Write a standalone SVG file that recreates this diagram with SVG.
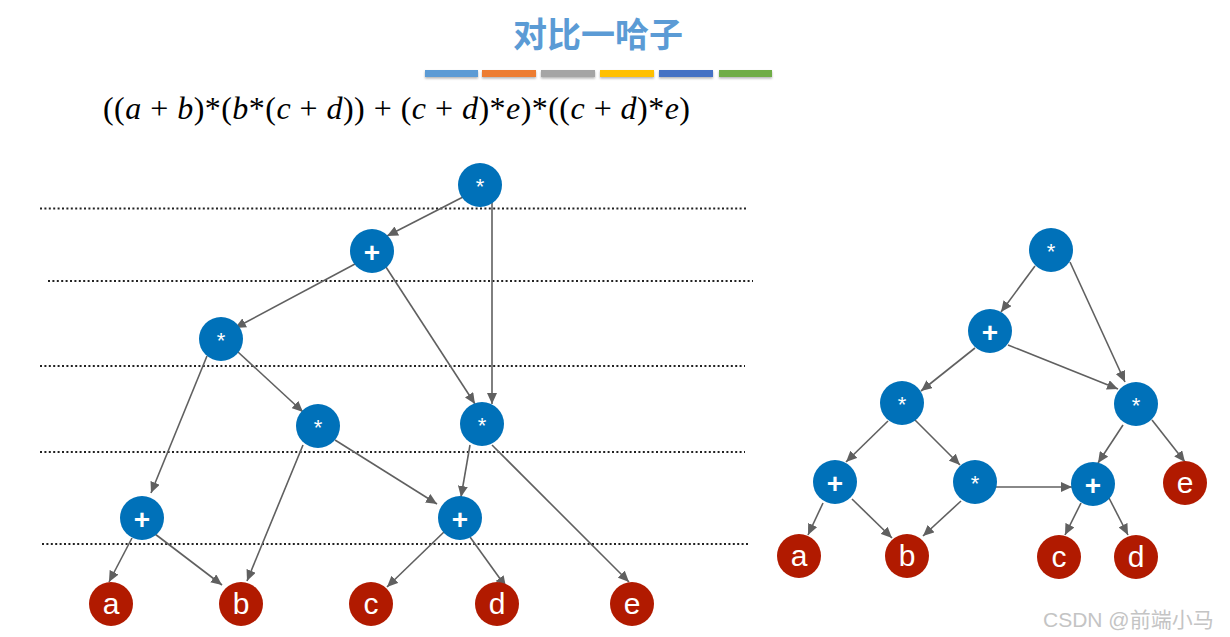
<svg xmlns="http://www.w3.org/2000/svg" width="1230" height="637" viewBox="0 0 1230 637">
<style>
.op circle{fill:#0071b9}
.lf circle{fill:#b11a00}
.pl{font-family:"Liberation Sans",Arial,sans-serif;font-size:28px;font-weight:bold;fill:#fff;text-anchor:middle}
.st{font-family:"Liberation Sans",Arial,sans-serif;font-size:22px;fill:#fff;text-anchor:middle}
.lt{font-family:"Liberation Sans",Arial,sans-serif;font-size:30px;fill:#fff;text-anchor:middle}
.dot{stroke:#222;stroke-width:2;stroke-dasharray:2 2.4;fill:none}
#edges line{stroke:#606060;stroke-width:1.6;marker-end:url(#ah)}
.it{font-style:italic}
</style>
<defs>
<marker id="ah" markerUnits="userSpaceOnUse" markerWidth="12" markerHeight="10" refX="11" refY="5" orient="auto">
<path d="M0,0 L11,5 L0,10 Z" fill="#606060"/>
</marker>
<filter id="sh" x="-10%" y="-50%" width="120%" height="250%">
<feDropShadow dx="0" dy="1.5" stdDeviation="1" flood-color="#000" flood-opacity="0.3"/>
</filter>
</defs>
<rect width="1230" height="637" fill="#fff"/>
<text x="598" y="47" font-family="'Noto Sans CJK SC',sans-serif" font-weight="bold" font-size="34" fill="#5b9bd5" text-anchor="middle">对比一哈子</text>
<g filter="url(#sh)">
<rect x="425" y="70" width="53" height="7" fill="#5b9bd5"/>
<rect x="482" y="70" width="54" height="7" fill="#ed7d31"/>
<rect x="541" y="70" width="54" height="7" fill="#a5a5a5"/>
<rect x="600" y="70" width="54" height="7" fill="#ffc000"/>
<rect x="659" y="70" width="54" height="7" fill="#4472c4"/>
<rect x="719" y="70" width="53" height="7" fill="#70ad47"/>
</g>
<text x="103" y="119" font-family="'Liberation Serif','Times New Roman',serif" font-size="32" fill="#000" textLength="587" lengthAdjust="spacing" xml:space="preserve">((<tspan class="it">a</tspan> + <tspan class="it">b</tspan>)*(<tspan class="it">b</tspan>*(<tspan class="it">c</tspan> + <tspan class="it">d</tspan>)) + (<tspan class="it">c</tspan> + <tspan class="it">d</tspan>)*<tspan class="it">e</tspan>)*((<tspan class="it">c</tspan> + <tspan class="it">d</tspan>)*<tspan class="it">e</tspan>)</text>
<g id="guides">
<line class="dot" x1="40" y1="208.5" x2="747" y2="208.5"/>
<line class="dot" x1="48" y1="281" x2="753" y2="281"/>
<line class="dot" x1="40" y1="366" x2="745" y2="366"/>
<line class="dot" x1="40" y1="452" x2="745" y2="452"/>
<line class="dot" x1="42" y1="544" x2="748" y2="544"/>
</g>
<g id="edges">
<line x1="463" y1="197" x2="387" y2="236"/>
<line x1="492" y1="198" x2="492" y2="404"/>
<line x1="355" y1="264" x2="235" y2="328"/>
<line x1="384" y1="264" x2="475" y2="404"/>
<line x1="207" y1="356" x2="151" y2="493"/>
<line x1="238" y1="352" x2="303" y2="412"/>
<line x1="303" y1="445" x2="247" y2="581"/>
<line x1="335" y1="440" x2="437" y2="504"/>
<line x1="470" y1="445" x2="461" y2="497"/>
<line x1="492" y1="445" x2="629" y2="582"/>
<line x1="132" y1="538" x2="109" y2="582"/>
<line x1="155" y1="534" x2="222" y2="585"/>
<line x1="445" y1="531" x2="387" y2="587"/>
<line x1="470" y1="537" x2="506" y2="587"/>
<line x1="1035" y1="266" x2="1001" y2="312"/>
<line x1="1070" y1="262" x2="1125" y2="382"/>
<line x1="975" y1="348" x2="921" y2="391"/>
<line x1="1008" y1="345" x2="1118" y2="389"/>
<line x1="888" y1="421" x2="846" y2="462"/>
<line x1="914" y1="419" x2="960" y2="465"/>
<line x1="1123" y1="425" x2="1098" y2="463"/>
<line x1="1152" y1="420" x2="1185" y2="462"/>
<line x1="823" y1="503" x2="808" y2="535"/>
<line x1="852" y1="499" x2="892" y2="538"/>
<line x1="961" y1="501" x2="923" y2="536"/>
<line x1="996" y1="487" x2="1072" y2="487"/>
<line x1="1081" y1="503" x2="1065" y2="535"/>
<line x1="1109" y1="498" x2="1128" y2="535"/>
</g>
<g id="L-root" class="op"><circle cx="480" cy="185" r="22"/><text class="st" x="480" y="194">*</text></g>
<g id="L-plus1" class="op"><circle cx="372" cy="251" r="22"/><text class="pl" x="372" y="262">+</text></g>
<g id="L-mul1" class="op"><circle cx="221" cy="339" r="22"/><text class="st" x="221" y="348">*</text></g>
<g id="L-mul2" class="op"><circle cx="318" cy="426" r="22"/><text class="st" x="318" y="435">*</text></g>
<g id="L-mul3" class="op"><circle cx="482" cy="424" r="22"/><text class="st" x="482" y="433">*</text></g>
<g id="L-plus2" class="op"><circle cx="142" cy="518" r="22"/><text class="pl" x="142" y="529">+</text></g>
<g id="L-plus3" class="op"><circle cx="460" cy="518" r="22"/><text class="pl" x="460" y="529">+</text></g>
<g id="L-a" class="lf"><circle cx="111" cy="604" r="22"/><text class="lt" x="111" y="614">a</text></g>
<g id="L-b" class="lf"><circle cx="241" cy="604" r="22"/><text class="lt" x="241" y="614">b</text></g>
<g id="L-c" class="lf"><circle cx="371" cy="604" r="22"/><text class="lt" x="371" y="614">c</text></g>
<g id="L-d" class="lf"><circle cx="497" cy="604" r="22"/><text class="lt" x="497" y="614">d</text></g>
<g id="L-e" class="lf"><circle cx="632" cy="604" r="22"/><text class="lt" x="632" y="614">e</text></g>
<g id="R-root" class="op"><circle cx="1051" cy="250" r="22"/><text class="st" x="1051" y="259">*</text></g>
<g id="R-plus1" class="op"><circle cx="990" cy="331" r="22"/><text class="pl" x="990" y="342">+</text></g>
<g id="R-mulL" class="op"><circle cx="902" cy="403" r="22"/><text class="st" x="902" y="412">*</text></g>
<g id="R-mulR" class="op"><circle cx="1136" cy="404" r="22"/><text class="st" x="1136" y="413">*</text></g>
<g id="R-plus2" class="op"><circle cx="835" cy="482" r="22"/><text class="pl" x="835" y="493">+</text></g>
<g id="R-mulM" class="op"><circle cx="975" cy="482" r="22"/><text class="st" x="975" y="491">*</text></g>
<g id="R-plus3" class="op"><circle cx="1093" cy="484" r="22"/><text class="pl" x="1093" y="495">+</text></g>
<g id="R-e" class="lf"><circle cx="1185" cy="483" r="22"/><text class="lt" x="1185" y="493">e</text></g>
<g id="R-a" class="lf"><circle cx="799" cy="556" r="22"/><text class="lt" x="799" y="566">a</text></g>
<g id="R-b" class="lf"><circle cx="907" cy="556" r="22"/><text class="lt" x="907" y="566">b</text></g>
<g id="R-c" class="lf"><circle cx="1059" cy="557" r="22"/><text class="lt" x="1059" y="567">c</text></g>
<g id="R-d" class="lf"><circle cx="1136" cy="557" r="22"/><text class="lt" x="1136" y="567">d</text></g>
<text x="1043" y="627" font-family="'Liberation Sans','Noto Sans CJK SC',sans-serif" font-size="21" fill="#c4c4c4">CSDN @前端小马</text>
</svg>
